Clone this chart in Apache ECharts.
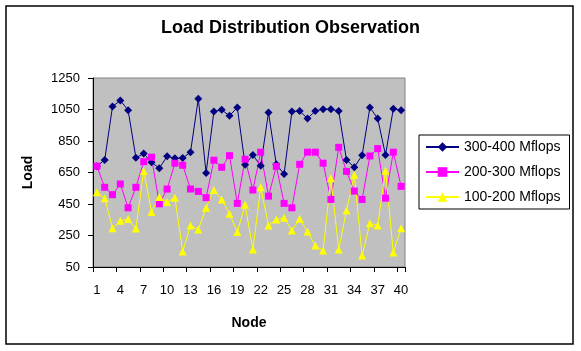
<!DOCTYPE html>
<html>
<head>
<meta charset="utf-8">
<script src="https://cdn.jsdelivr.net/npm/echarts@6/dist/echarts.min.js"></script>
<style>
  html, body { margin: 0; padding: 0; background: #fff; }
  #chart { width: 581px; height: 351px; }
</style>
</head>
<body>
<div id="chart"></div>
<script>
// 节点编号 1..40
const nodes = ['1','2','3','4','5','6','7','8','9','10','11','12','13','14','15','16','17','18','19','20',
  '21','22','23','24','25','26','27','28','29','30','31','32','33','34','35','36','37','38','39','40'];

const seriesNames = ['300-400 Mflops', '200-300 Mflops', '100-200 Mflops'];

// 各负载区间的数据
const load300to400 = [690, 730, 1069, 1107, 1046, 744, 770, 715, 677, 753,
  740, 742, 779, 1118, 647, 1037, 1048, 1010, 1063, 700,
  761, 693, 1031, 702, 640, 1037, 1040, 993, 1040, 1052,
  1052, 1040, 730, 683, 759, 1063, 993, 761, 1054, 1046];

const load200to300 = [690, 556, 509, 577, 426, 556, 719, 747, 451, 545,
  709, 696, 545, 530, 490, 728, 683, 757, 454, 734,
  539, 779, 500, 689, 454, 426, 702, 779, 779, 709,
  479, 810, 657, 532, 479, 755, 802, 487, 779, 562];

const load100to200 = [524, 487, 296, 343, 354, 294, 660, 400, 494, 462,
  490, 148, 314, 288, 426, 539, 479, 388, 273, 445,
  161, 556, 314, 352, 362, 282, 356, 275, 186, 154,
  613, 161, 409, 634, 123, 328, 314, 661, 142, 296];

const yMin = 50;
const yMax = 1250;
const yStep = 200;

const FONT = 'Liberation Sans, Arial, sans-serif';

const chart = echarts.init(document.getElementById('chart'));

function lineSeries(name, data, color, symbol, size) {
  return {
    name: name,
    type: 'line',
    data: data,
    symbol: symbol,
    symbolSize: size,
    showAllSymbol: true,
    animation: false,
    itemStyle: { color: color },
    lineStyle: { color: color, width: 1 }
  };
}

const option = {
  backgroundColor: '#fff',
  textStyle: { fontFamily: FONT },
  title: {
    text: 'Load Distribution Observation',
    left: 'center',
    top: 19,
    padding: 0,
    textStyle: { fontFamily: FONT, fontSize: 18, fontWeight: 'bold', color: '#000' }
  },
  legend: {
    data: seriesNames,
    orient: 'vertical',
    left: 419,
    top: 135,
    padding: [5, 9, 5, 6],
    itemGap: 11,
    itemWidth: 33,
    itemHeight: 12,
    borderColor: '#000',
    borderWidth: 1,
    textStyle: { fontFamily: FONT, fontSize: 14, color: '#000' }
  },
  grid: {
    left: 93,
    top: 78,
    width: 312,
    height: 189,
    show: true,
    backgroundColor: '#C0C0C0',
    borderColor: '#808080',
    borderWidth: 1
  },
  xAxis: {
    type: 'category',
    data: nodes,
    boundaryGap: true,
    name: 'Node',
    nameLocation: 'middle',
    nameGap: 49,
    nameTextStyle: { fontFamily: FONT, fontSize: 14, fontWeight: 'bold', color: '#000' },
    axisLine: { lineStyle: { color: '#000', width: 1 } },
    axisTick: { show: true, interval: 2, length: 5, lineStyle: { color: '#000' } },
    axisLabel: { interval: 2, margin: 17, fontSize: 13, color: '#000', fontFamily: FONT },
    splitLine: { show: false }
  },
  yAxis: {
    type: 'value',
    min: yMin,
    max: yMax,
    interval: yStep,
    name: 'Load',
    nameLocation: 'middle',
    nameRotate: 90,
    nameGap: 58,
    nameTextStyle: { fontFamily: FONT, fontSize: 14, fontWeight: 'bold', color: '#000' },
    axisLine: { show: true, lineStyle: { color: '#000', width: 1 } },
    axisTick: { show: true, length: 5, lineStyle: { color: '#000' } },
    axisLabel: {
      margin: 13, fontSize: 13, color: '#000', fontFamily: FONT,
      formatter: v => String(v)
    },
    splitLine: { show: false }
  },
  graphic: [
    {
      type: 'rect',
      shape: { x: 6, y: 6, width: 567, height: 338 },
      style: { fill: 'none', stroke: '#000', lineWidth: 1.5 },
      silent: true
    }
  ],
  series: [
    lineSeries(seriesNames[0], load300to400, '#000080', 'diamond', 8),
    lineSeries(seriesNames[1], load200to300, '#FF00FF', 'rect', 7),
    lineSeries(seriesNames[2], load100to200, '#FFFF00', 'triangle', 8)
  ]
};

chart.setOption(option);
</script>
</body>
</html>
